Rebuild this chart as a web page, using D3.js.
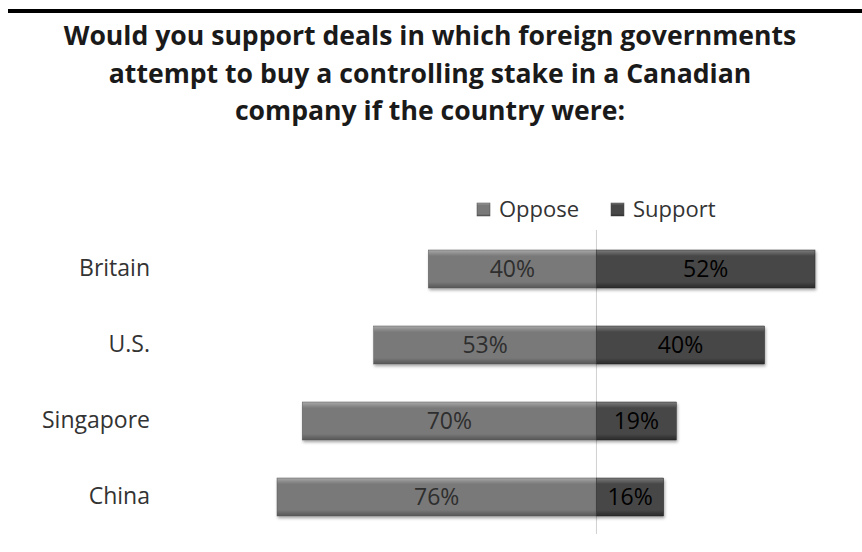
<!DOCTYPE html>
<html>
<head>
<meta charset="utf-8">
<script src="https://cdn.jsdelivr.net/npm/d3@7"></script>
<style>
  body { margin: 0; background: #fff; }
  text { font-family: "Open Sans", "Noto Sans", sans-serif; }
</style>
</head>
<body>
<div class="chart"></div>
<script>
// data
var countries = ["Britain", "U.S.", "Singapore", "China"];
var oppose = [40, 53, 70, 76];
var support = [52, 40, 19, 16];
var seriesNames = ["Oppose", "Support"];
var titleLines = [
    "Would you support deals in which foreign governments",
    "attempt to buy a controlling stake in a Canadian",
    "company if the country were:"
];

var svgWidth = 862, svgHeight = 552;

var svg = d3.select(".chart")
    .append("svg")
    .attr("width", svgWidth)
    .attr("height", svgHeight);

// gradients for the bevelled bars
var defs = svg.append("defs");
function bevel(id, top, mid, bottom) {
    var g = defs.append("linearGradient")
        .attr("id", id)
        .attr("x1", 0).attr("y1", 0).attr("x2", 0).attr("y2", 1);
    g.append("stop").attr("offset", "0%").attr("stop-color", top);
    g.append("stop").attr("offset", "16%").attr("stop-color", mid);
    g.append("stop").attr("offset", "84%").attr("stop-color", mid);
    g.append("stop").attr("offset", "100%").attr("stop-color", bottom);
}
bevel("gOppose", "#a8a8a8", "#797979", "#565656");
bevel("gSupport", "#7c7c7c", "#474747", "#2a2a2a");

var shadow = defs.append("filter").attr("id", "shadow")
    .attr("x", "-5%").attr("y", "-20%").attr("width", "110%").attr("height", "160%");
shadow.append("feDropShadow")
    .attr("dx", 1).attr("dy", 2).attr("stdDeviation", 1.5)
    .attr("flood-color", "#000").attr("flood-opacity", 0.35);

// top rule
svg.append("rect")
    .attr("x", 8).attr("y", 9)
    .attr("width", svgWidth - 8).attr("height", 4)
    .attr("fill", "#000");

// title
svg.append("g").selectAll("text")
    .data(titleLines)
    .enter()
    .append("text")
    .attr("x", 430)
    .attr("y", (d, i) => 45 + i * 37.5)
    .attr("text-anchor", "middle")
    .attr("font-size", "26.6px")
    .attr("font-weight", "bold")
    .attr("fill", "#1a1a1a")
    .text(d => d);

// scales
var x = d3.scaleLinear()
    .domain([-76, 52])
    .range([277, 815]);

var y = d3.scaleBand()
    .domain(countries)
    .range([231, 535])
    .paddingInner(0.5)
    .paddingOuter(0.25);

// zero line
svg.append("line")
    .attr("x1", x(0)).attr("x2", x(0))
    .attr("y1", 230).attr("y2", 534)
    .attr("stroke", "#d0d0d0")
    .attr("stroke-width", 1);

var rows = countries.map((c, i) => ({ country: c, oppose: oppose[i], support: support[i] }));

// oppose bars
svg.append("g").selectAll("rect")
    .data(rows)
    .enter()
    .append("rect")
    .attr("x", d => x(-d.oppose))
    .attr("y", d => y(d.country))
    .attr("width", d => x(0) - x(-d.oppose))
    .attr("height", y.bandwidth())
    .attr("fill", "url(#gOppose)")
    .attr("stroke", "#5a5a5a")
    .attr("stroke-width", 0.5)
    .attr("filter", "url(#shadow)");

// support bars
svg.append("g").selectAll("rect")
    .data(rows)
    .enter()
    .append("rect")
    .attr("x", x(0))
    .attr("y", d => y(d.country))
    .attr("width", d => x(d.support) - x(0))
    .attr("height", y.bandwidth())
    .attr("fill", "url(#gSupport)")
    .attr("stroke", "#2a2a2a")
    .attr("stroke-width", 0.5)
    .attr("filter", "url(#shadow)");

// value labels
svg.append("g").selectAll("text")
    .data(rows)
    .enter()
    .append("text")
    .attr("x", d => (x(-d.oppose) + x(0)) / 2)
    .attr("y", d => y(d.country) + y.bandwidth() / 2)
    .attr("dy", "0.36em")
    .attr("text-anchor", "middle")
    .attr("font-size", "23px")
    .attr("fill", "#2e2e2e")
    .text(d => d.oppose + "%");

svg.append("g").selectAll("text")
    .data(rows)
    .enter()
    .append("text")
    .attr("x", d => (x(d.support) + x(0)) / 2)
    .attr("y", d => y(d.country) + y.bandwidth() / 2)
    .attr("dy", "0.36em")
    .attr("text-anchor", "middle")
    .attr("font-size", "23px")
    .attr("fill", "#000")
    .text(d => d.support + "%");

// category axis
var leftAxis = d3.axisLeft(y).tickSize(0).tickPadding(0);
var axisG = svg.append("g")
    .attr("transform", "translate(150,0)")
    .call(leftAxis);
axisG.select(".domain").remove();
axisG.selectAll("text")
    .attr("font-size", "23px")
    .attr("font-family", "\"Open Sans\", sans-serif")
    .attr("fill", "#333");

// legend
var legendX = [477, 611];
var legend = svg.append("g").selectAll("g")
    .data(seriesNames)
    .enter()
    .append("g")
    .attr("transform", (d, i) => `translate(${legendX[i]}, 203)`);
legend.append("rect")
    .attr("width", 13).attr("height", 13)
    .attr("fill", (d, i) => i === 0 ? "url(#gOppose)" : "url(#gSupport)")
    .attr("stroke", "#444").attr("stroke-width", 0.5);
legend.append("text")
    .attr("x", 22).attr("y", 6.5)
    .attr("dy", "0.36em")
    .attr("font-size", "22px")
    .attr("fill", "#333")
    .text(d => d);
</script>
</body>
</html>
